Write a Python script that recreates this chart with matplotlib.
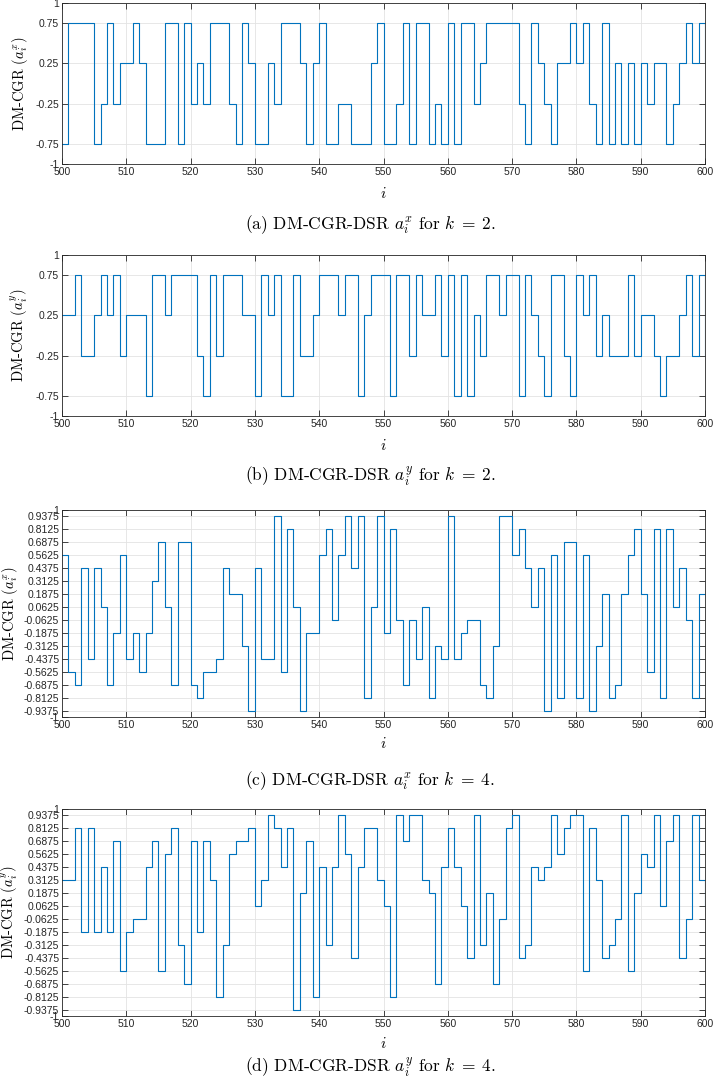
import numpy as np
import matplotlib
matplotlib.use("Agg")
import matplotlib.pyplot as plt

plt.rcParams['mathtext.fontset'] = 'cm'

# sample index i = 500..600
idx = np.arange(500, 601)

# k = 2, x component
ax_k2 = [-0.75, 0.75, 0.75, 0.75, 0.75, -0.75, -0.25, 0.75, -0.25, 0.25,
         0.25, 0.75, 0.25, -0.75, -0.75, -0.75, 0.75, 0.75, -0.75, 0.75,
         -0.25, 0.25, -0.25, 0.75, 0.75, 0.75, -0.25, -0.75, 0.75, 0.25,
         -0.75, -0.75, 0.25, -0.25, 0.75, 0.75, 0.75, 0.25, -0.75, 0.25,
         0.75, -0.75, -0.75, -0.25, -0.25, -0.75, -0.75, -0.75, 0.25, 0.75,
         -0.75, -0.75, -0.25, 0.75, -0.75, 0.75, 0.75, -0.75, -0.25, -0.75,
         0.75, -0.75, 0.75, 0.75, -0.25, 0.25, 0.75, 0.75, 0.75, 0.75,
         0.75, -0.25, -0.75, 0.75, 0.25, -0.25, -0.75, 0.25, 0.25, 0.75,
         0.25, 0.75, -0.25, -0.75, 0.75, -0.75, 0.25, -0.75, 0.25, -0.75,
         0.25, -0.25, 0.25, 0.25, -0.75, -0.25, 0.25, 0.75, 0.25, 0.75,
         0.25]

# k = 2, y component
ay_k2 = [0.25, 0.25, 0.75, -0.25, -0.25, 0.25, 0.75, 0.25, 0.75, -0.25,
         0.25, 0.25, 0.25, -0.75, 0.75, 0.75, 0.25, 0.75, 0.75, 0.75,
         0.75, -0.25, -0.75, 0.75, -0.25, 0.75, 0.75, 0.75, 0.25, 0.25,
         -0.75, 0.75, 0.25, 0.75, -0.75, -0.75, 0.75, -0.25, -0.25, 0.25,
         0.75, 0.75, 0.75, 0.25, 0.75, 0.75, -0.75, 0.25, 0.75, 0.75,
         0.75, -0.75, 0.75, 0.75, -0.25, 0.75, 0.25, 0.25, 0.75, -0.25,
         0.75, -0.75, 0.75, -0.75, 0.25, -0.25, 0.75, 0.75, 0.25, 0.75,
         0.75, -0.75, 0.75, 0.25, -0.25, -0.75, 0.75, 0.75, -0.25, -0.75,
         0.75, 0.25, 0.75, -0.25, 0.25, -0.25, -0.25, -0.25, 0.75, -0.25,
         0.25, 0.25, -0.25, -0.75, -0.25, -0.25, 0.25, 0.75, -0.25, 0.75,
         -0.25]

# k = 4, x component
ax_k4 = [0.5625, -0.5625, -0.6875, 0.4375, -0.4375, 0.4375, 0.0625, -0.6875, -0.1875, 0.5625,
         -0.4375, -0.1875, -0.5625, -0.1875, 0.3125, 0.6875, 0.0625, -0.6875, 0.6875, 0.6875,
         -0.6875, -0.8125, -0.5625, -0.5625, -0.4375, 0.4375, 0.1875, 0.1875, -0.3125, -0.9375,
         0.4375, -0.4375, -0.4375, 0.9375, -0.5625, 0.8125, 0.0625, -0.9375, -0.1875, -0.1875,
         0.5625, 0.8125, -0.0625, 0.5625, 0.9375, 0.4375, 0.9375, -0.8125, 0.0625, 0.9375,
         -0.1875, 0.8125, -0.0625, -0.6875, -0.0625, -0.4375, 0.0625, -0.8125, -0.3125, -0.4375,
         0.9375, -0.4375, -0.1875, -0.0625, -0.0625, -0.6875, -0.8125, -0.3125, 0.9375, 0.9375,
         0.5625, 0.8125, 0.4375, 0.0625, 0.4375, -0.9375, 0.5625, -0.8125, 0.6875, 0.6875,
         -0.8125, 0.5625, -0.9375, -0.3125, 0.1875, -0.8125, -0.6875, 0.1875, 0.5625, 0.8125,
         0.1875, -0.5625, 0.8125, -0.8125, 0.8125, 0.0625, 0.4375, -0.0625, -0.8125, 0.1875,
         0.1875]

# k = 4, y component
ay_k4 = [0.3125, 0.3125, 0.8125, -0.1875, 0.8125, -0.1875, 0.4375, -0.1875, 0.6875, -0.5625,
         -0.1875, -0.0625, -0.0625, 0.4375, 0.6875, -0.5625, 0.5625, 0.8125, -0.3125, -0.6875,
         0.6875, -0.1875, 0.6875, 0.3125, -0.8125, -0.3125, 0.5625, 0.6875, 0.6875, 0.8125,
         0.0625, 0.3125, 0.9375, 0.8125, 0.4375, 0.8125, -0.9375, 0.1875, 0.6875, -0.8125,
         0.4375, -0.3125, 0.4375, 0.9375, 0.5625, -0.4375, 0.4375, 0.8125, 0.8125, 0.3125,
         0.0625, -0.8125, 0.9375, 0.6875, 0.9375, 0.9375, 0.3125, 0.1875, -0.6875, 0.4375,
         0.8125, 0.4375, 0.0625, -0.4375, 0.9375, -0.3125, 0.1875, -0.6875, -0.0625, 0.8125,
         0.9375, -0.4375, -0.3125, 0.4375, 0.3125, 0.4375, 0.9375, 0.5625, 0.8125, 0.9375,
         0.9375, -0.5625, 0.8125, 0.3125, -0.4375, -0.3125, -0.0625, 0.9375, -0.5625, 0.1875,
         0.5625, 0.4375, 0.9375, 0.0625, 0.6875, 0.9375, -0.4375, -0.0625, 0.9375, 0.3125,
         0.0625]

yticks_k2 = [-1, -0.75, -0.25, 0.25, 0.75, 1]
yticks_k4 = [-1, -0.9375, -0.8125, -0.6875, -0.5625, -0.4375, -0.3125, -0.1875, -0.0625,
             0.0625, 0.1875, 0.3125, 0.4375, 0.5625, 0.6875, 0.8125, 0.9375, 1]
xticks = list(range(500, 601, 10))

ylabels = [r'DM-CGR ($a_i^x$)', r'DM-CGR ($a_i^y$)', r'DM-CGR ($a_i^x$)', r'DM-CGR ($a_i^y$)']
captions = [r'(a) DM-CGR-DSR $a_i^x$ for $k\;=\;2$.',
            r'(b) DM-CGR-DSR $a_i^y$ for $k\;=\;2$.',
            r'(c) DM-CGR-DSR $a_i^x$ for $k\;=\;4$.',
            r'(d) DM-CGR-DSR $a_i^y$ for $k\;=\;4$.']

W, H = 714, 1086
fig = plt.figure(figsize=(W / 100, H / 100), dpi=100)

# pixel layout: (top, bottom) of each axes, label positions
boxes = [(3, 164), (255, 416), (510, 717), (809, 1016)]
ilabel_y = [193, 445, 744, 1043]
caption_y = [225, 477, 781, 1068]
ylabel_x = [20, 20, 10, 10]
left, right = 62, 705

series = [ax_k2, ay_k2, ax_k4, ay_k4]
ticks = [yticks_k2, yticks_k2, yticks_k4, yticks_k4]

for n in range(4):
    top, bot = boxes[n]
    ax = fig.add_axes([left / W, 1 - bot / H, (right - left) / W, (bot - top) / H])
    ax.step(idx, series[n], where='post', color='#0072BD', lw=0.8)
    ax.set_xlim(500, 600)
    ax.set_ylim(-1, 1)
    ax.set_xticks(xticks)
    ax.set_xticklabels([str(t) for t in xticks], family='Liberation Sans', fontsize=7.5)
    ax.set_yticks(ticks[n])
    ax.set_yticklabels([f'{t:g}' for t in ticks[n]], family='Liberation Sans', fontsize=7.5)
    ax.tick_params(direction='in', length=4.5, width=0.6, colors='#262626',
                   top=True, right=True, pad=2)
    ax.grid(True, color='#e3e3e3', lw=0.6)
    ax.set_axisbelow(True)
    for s in ax.spines.values():
        s.set_color('#262626')
        s.set_linewidth(0.6)
    ax.text(0.5, 1 - (ilabel_y[n] - top) / (bot - top), '$i$', transform=ax.transAxes,
            ha='center', va='center', fontsize=11)
    ax.text((ylabel_x[n] - left) / (right - left), 0.5, ylabels[n], transform=ax.transAxes,
            rotation=90, ha='center', va='center', family='cmr10', fontsize=10.5)
    fig.text(370 / W, 1 - caption_y[n] / H, captions[n], ha='center', va='center',
             family='cmr10', fontsize=12.5)

fig.savefig('out.png', dpi=100)
